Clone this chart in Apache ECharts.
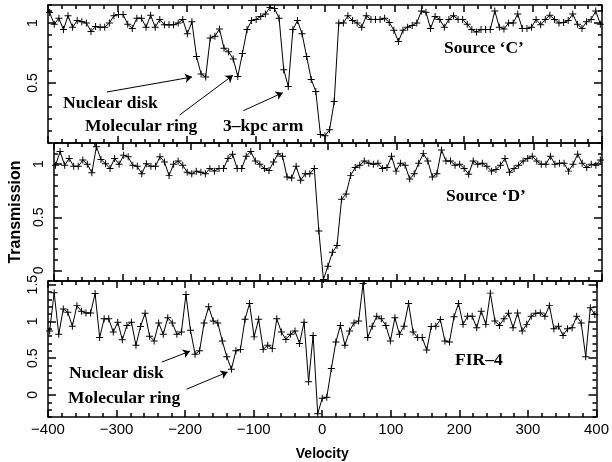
<!DOCTYPE html>
<html>
<head>
<meta charset="utf-8">
<script src="https://cdn.jsdelivr.net/npm/echarts@6.0.0/dist/echarts.min.js"></script>
<style>
  html, body { margin: 0; padding: 0; background: #fff; }
  #main { width: 612px; height: 462px; }
</style>
</head>
<body>
<div id="main"></div>
<script>
// velocity channels (km/s), shared by the three spectra
const velocity = [
  -397.6, -391.0, -384.3, -377.7, -371.1, -364.5, -357.8, -351.2, -344.6, -337.9,
  -331.3, -324.7, -318.1, -311.4, -304.8, -298.2, -291.6, -284.9, -278.3, -271.7,
  -265.1, -258.4, -251.8, -245.2, -238.6, -231.9, -225.3, -218.7, -212.0, -205.4,
  -198.8, -192.2, -185.5, -178.9, -172.3, -165.7, -159.0, -152.4, -145.8, -139.2,
  -132.5, -125.9, -119.3, -112.6, -106.0, -99.4, -92.8, -86.1, -79.5, -72.9,
  -66.3, -59.6, -53.0, -46.4, -39.8, -33.1, -26.5, -19.9, -13.3, -6.6,
  0.0, 6.6, 13.3, 19.9, 26.5, 33.1, 39.8, 46.4, 53.0, 59.6,
  66.3, 72.9, 79.5, 86.1, 92.8, 99.4, 106.0, 112.6, 119.3, 125.9,
  132.5, 139.2, 145.8, 152.4, 159.0, 165.7, 172.3, 178.9, 185.5, 192.2,
  198.8, 205.4, 212.0, 218.7, 225.3, 231.9, 238.6, 245.2, 251.8, 258.4,
  265.1, 271.7, 278.3, 284.9, 291.6, 298.2, 304.8, 311.4, 318.1, 324.7,
  331.3, 337.9, 344.6, 351.2, 357.8, 364.5, 371.1, 377.7, 384.3, 391.0,
  397.6
];

const sourceC = [
  1.087, 0.99, 1.04, 0.945, 1.06, 0.965, 1.02, 1.01, 1.0, 0.93,
  0.97, 0.965, 0.965, 1.0, 1.06, 1.07, 1.07, 0.99, 0.955, 1.04,
  1.04, 0.965, 1.065, 0.965, 1.03, 0.985, 0.985, 0.985, 1.0, 1.03,
  0.91, 1.01, 0.72, 0.575, 0.55, 0.875, 0.89, 0.95, 0.79, 0.76,
  0.70, 0.555, 0.745, 0.945, 1.02, 1.03, 1.055, 1.075, 1.13, 1.12,
  1.04, 0.61, 0.47, 0.945, 1.02, 0.91, 0.72, 0.53, 0.43, 0.07,
  0.06, 0.11, 0.345, 1.0, 1.0, 1.06, 1.02, 1.0, 0.965, 1.06,
  1.03, 1.03, 1.03, 1.04, 1.005, 0.94, 0.845, 0.94, 0.965, 0.98,
  1.0, 1.1, 1.09, 0.955, 1.055, 1.03, 0.965, 1.03, 1.06, 1.03,
  1.03, 0.99, 0.945, 0.925, 0.945, 0.945, 0.945, 1.1, 0.965, 0.95,
  1.0, 1.0, 1.075, 0.955, 0.955, 0.965, 1.03, 0.985, 1.03, 1.065,
  1.03, 1.0, 1.005, 1.02, 1.075, 0.99, 0.955, 1.01, 1.03, 1.1,
  0.99
];

const sourceD = [
  0.99, 1.12, 0.99, 1.055, 0.98, 0.98, 1.04, 1.0, 0.92, 1.165,
  1.045, 1.005, 0.96, 1.055, 1.0, 1.085, 1.07, 0.99, 0.98, 0.91,
  1.005, 0.98, 0.98, 1.07, 1.02, 0.895, 1.0, 1.03, 0.99, 0.925,
  0.91, 0.935, 0.925, 0.91, 0.96, 0.935, 0.96, 0.96, 1.055, 1.095,
  0.96, 0.96, 1.075, 1.12, 1.03, 1.0, 0.96, 0.94, 1.02, 1.10,
  1.075, 0.88, 0.87, 0.98, 0.85, 0.91, 0.91, 0.96, 0.37, -0.085,
  0.04, 0.17, 0.235, 0.67, 0.72, 0.895, 0.97, 0.99, 1.03, 1.01,
  1.0, 1.01, 0.96, 0.97, 1.075, 0.935, 1.01, 0.99, 0.86, 0.91,
  1.01, 1.10, 1.03, 0.88, 0.91, 1.135, 1.03, 1.03, 0.99, 1.0,
  0.96, 0.905, 1.03, 1.0, 1.01, 0.98, 0.935, 0.95, 0.99, 1.055,
  0.925, 0.96, 0.99, 1.03, 1.055, 1.075, 1.03, 1.0, 1.0, 1.075,
  1.0, 1.01, 1.01, 0.935, 1.0, 1.095, 1.01, 0.97, 1.0, 0.99,
  1.04
];

const fir4 = [
  0.87, 1.39, 0.825, 1.17, 1.125, 0.935, 1.215, 1.14, 1.115, 1.115,
  1.38, 0.78, 1.035, 1.035, 0.855, 0.99, 0.75, 0.945, 0.99, 0.675,
  0.93, 1.11, 0.80, 0.735, 0.98, 0.825, 1.05, 0.98, 0.825, 0.855,
  1.365, 0.88, 0.555, 0.60, 0.98, 1.20, 1.005, 0.98, 0.735, 0.52,
  0.35, 0.60, 0.62, 1.03, 1.245, 0.79, 1.03, 0.62, 0.675, 0.63,
  1.035, 0.855, 0.755, 0.825, 0.87, 0.70, 0.99, 0.18, 0.81, -0.255,
  -0.045, -0.03, 0.36, 0.72, 0.945, 0.675, 0.87, 0.98, 1.005, 1.515,
  0.78, 0.935, 1.07, 1.035, 0.945, 0.735, 1.05, 0.825, 0.935, 1.245,
  0.855, 0.78, 0.78, 0.61, 0.93, 0.935, 1.025, 0.735, 0.72, 1.065,
  1.245, 0.96, 1.07, 1.07, 0.915, 1.14, 0.96, 1.385, 1.005, 0.945,
  1.035, 1.11, 0.915, 1.115, 0.87, 0.96, 1.07, 1.11, 1.115, 1.07,
  1.215, 0.90, 0.935, 0.81, 0.90, 0.915, 1.07, 0.98, 0.52, 1.185,
  1.095
];

// y range and labelled ticks of each panel (top to bottom)
const yMin = [0, -0.1, -0.3];
const yMax = [1.15, 1.2, 1.55];
const yLabels = [[0.5, 1], [0, 0.5, 1], [0, 0.5, 1, 1.5]];

// arrows: [fromVel, fromT, toVel, toT]
const arrowsC = [[-315, 0.425, -192, 0.55], [-210, 0.233, -133, 0.564], [-118, 0.269, -61, 0.419]];
const arrowsFir = [[-234, 0.447, -193, 0.595], [-198, 0.078, -138, 0.312]];

const spectra = [sourceC, sourceD, fir4];
const arrows = [arrowsC, [], arrowsFir];

const chart = echarts.init(document.getElementById('main'), null, { renderer: 'canvas' });

const black = '#000';
const grids = [
  { left: 48, right: 10, top: 5, height: 138 },
  { left: 48, right: 10, top: 143, height: 138 },
  { left: 48, right: 10, top: 281, height: 137 }
];

function xAx(g, pos, showLabel) {
  return {
    type: 'value', gridIndex: g, position: pos,
    min: -400, max: 400, interval: 100,
    axisLine: { show: true, onZero: false, lineStyle: { color: black, width: 1.5 } },
    axisTick: { show: true, inside: true, length: 7, lineStyle: { color: black, width: 1.5 } },
    minorTick: { show: true, splitNumber: 5, length: 4, lineStyle: { color: black, width: 1.5 } },
    splitLine: { show: false },
    axisLabel: {
      show: showLabel, color: black, fontSize: 15, fontFamily: 'Liberation Sans', margin: 5,
      formatter: v => (v < 0 ? '\u2212' + Math.abs(v) : String(v))
    }
  };
}

function yAx(g, pos, major, showLabel) {
  const base = {
    type: 'value', gridIndex: g, position: pos,
    min: yMin[g], max: yMax[g], splitLine: { show: false }
  };
  if (major) {
    // longer ticks at the labelled values
    return Object.assign(base, {
      axisLine: { show: false, onZero: false },
      axisTick: { show: true, inside: true, length: 8, customValues: yLabels[g], lineStyle: { color: black, width: 1.5 } },
      axisLabel: { show: false }
    });
  }
  return Object.assign(base, {
    interval: 0.1,
    axisLine: { show: true, onZero: false, lineStyle: { color: black, width: 1.5 } },
    axisTick: { show: true, inside: true, length: 4, lineStyle: { color: black, width: 1.5 } },
    axisLabel: {
      show: showLabel, rotate: 90, color: black, fontSize: 14, fontFamily: 'Liberation Sans', margin: 8,
      formatter: v => (yLabels[g].some(t => Math.abs(t - v) < 1e-6) ? String(+(+v).toFixed(1)) : '')
    }
  });
}

const xAxes = [];
const yAxes = [];
for (let g = 0; g < 3; g++) {
  xAxes.push(xAx(g, 'bottom', g === 2));
  xAxes.push(xAx(g, 'top', false));
  yAxes.push(yAx(g, 'left', false, true));
  yAxes.push(yAx(g, 'left', true, false));
  yAxes.push(yAx(g, 'right', false, false));
  yAxes.push(yAx(g, 'right', true, false));
}
xAxes[4].name = 'Velocity';
xAxes[4].nameLocation = 'middle';
xAxes[4].nameGap = 30;
xAxes[4].nameTextStyle = { color: black, fontWeight: 'bold', fontSize: 14, fontFamily: 'Liberation Sans' };
yAxes[4].name = 'Transmission';
yAxes[4].nameLocation = 'middle';
yAxes[4].nameGap = 26;
yAxes[4].nameRotate = 90;
yAxes[4].nameTextStyle = { color: black, fontWeight: 'bold', fontSize: 16, fontFamily: 'Liberation Sans' };

const plus = 'path://M0,4.3h10v1.4h-10z M4.3,0h1.4v10h-1.4z';

const series = spectra.map((vals, g) => ({
  type: 'line',
  xAxisIndex: 2 * g,
  yAxisIndex: 4 * g,
  data: velocity.map((v, i) => [v, vals[i]]),
  symbol: plus,
  symbolSize: 7,
  showSymbol: true,
  itemStyle: { color: black },
  lineStyle: { color: black, width: 1 },
  markLine: {
    silent: true,
    symbol: ['none', 'arrow'],
    symbolSize: 7,
    lineStyle: { color: black, width: 1, type: 'solid' },
    label: { show: false },
    data: arrows[g].map(a => [{ coord: [a[0], a[1]] }, { coord: [a[2], a[3]] }])
  }
}));

const serif = 'bold 17.5px "Liberation Serif"';
function note(text, x, y) {
  return { type: 'text', x: x, y: y, style: { text: text, font: serif, fill: black, textAlign: 'left', textVerticalAlign: 'middle' } };
}

chart.setOption({
  animation: false,
  backgroundColor: '#fff',
  grid: grids,
  xAxis: xAxes,
  yAxis: yAxes,
  series: series,
  graphic: [
    note('Nuclear disk', 63, 103),
    note('Molecular ring', 85, 126),
    note('3\u2013kpc arm', 223, 126),
    note('Source \u2018C\u2019', 444, 48),
    note('Source \u2018D\u2019', 446, 196),
    note('FIR\u20134', 455, 360),
    note('Nuclear disk', 69, 373),
    note('Molecular ring', 68, 398)
  ]
});
</script>
</body>
</html>
